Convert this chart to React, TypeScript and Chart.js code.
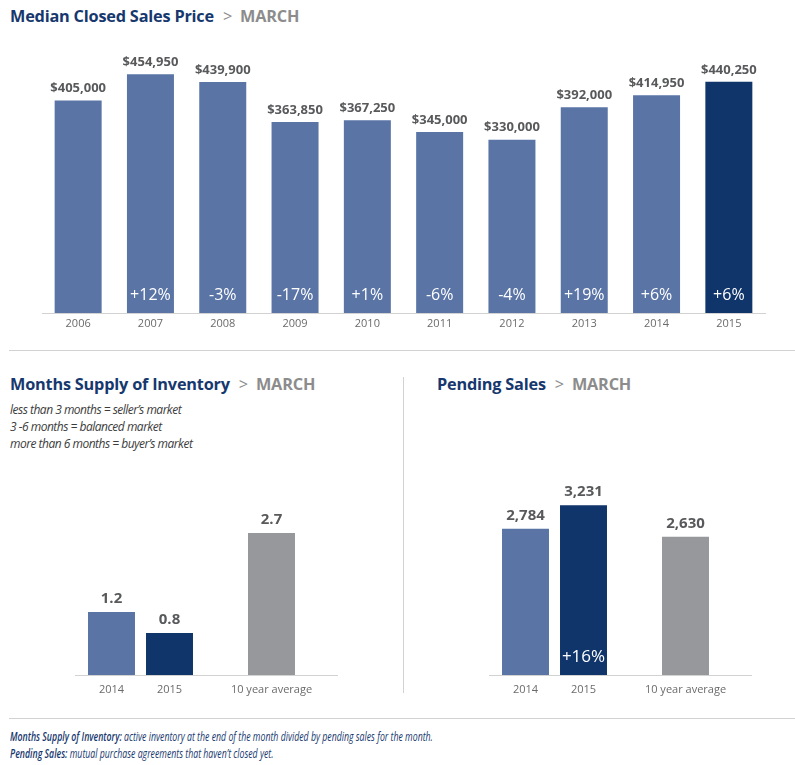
import React, { useEffect, useRef } from 'react';
import { Chart, registerables } from 'chart.js';

Chart.register(...registerables);

// ---------- data ----------
const years = ['2006', '2007', '2008', '2009', '2010', '2011', '2012', '2013', '2014', '2015'];
const medianPrices = [405000, 454950, 439900, 363850, 367250, 345000, 330000, 392000, 414950, 440250];
const priceChanges = ['', '+12%', '-3%', '-17%', '+1%', '-6%', '-4%', '+19%', '+6%', '+6%'];

const compareLabels = ['2014', '2015', '10 year average'];
const inventoryValues = [1.2, 0.8, 2.7];
const inventoryChanges = ['', '', ''];
const pendingValues = [2784, 3231, 2630];
const pendingChanges = ['', '+16%', ''];

// ---------- styles ----------
const BLUE = '#5a74a6';
const NAVY = '#10356a';
const GRAY = '#97989c';
const LABEL = '#58595b';
const TICK = '#6b6b6b';
const LINE = '#d2d2d2';
const FONT = '"Open Sans", "Noto Sans", sans-serif';

type LabelOpts = {
  format: (v: number) => string;
  valueSize: number;
  valueGap: number;
  inside: (ds: number, i: number) => string;
  insideSize: number;
  insideRise: number;
  tickLabel?: (ds: number, i: number) => string;
};

function labelPlugin(o: LabelOpts) {
  return {
    id: 'barLabels',
    afterDatasetsDraw(chart: any) {
      const ctx = chart.ctx;
      const area = chart.chartArea;
      chart.data.datasets.forEach((ds: any, di: number) => {
        const meta = chart.getDatasetMeta(di);
        meta.data.forEach((bar: any, i: number) => {
          const v = ds.data[i];
          if (v === null || v === undefined) return;
          ctx.save();
          ctx.textAlign = 'center';
          ctx.textBaseline = 'middle';
          ctx.fillStyle = LABEL;
          ctx.font = `bold ${o.valueSize}px ${FONT}`;
          ctx.fillText(o.format(v), bar.x, bar.y - o.valueGap);
          const inside = o.inside(di, i);
          if (inside) {
            ctx.fillStyle = '#ffffff';
            ctx.font = `${o.insideSize}px ${FONT}`;
            ctx.fillText(inside, bar.x, area.bottom - o.insideRise);
          }
          if (o.tickLabel) {
            ctx.fillStyle = TICK;
            ctx.font = `11px ${FONT}`;
            ctx.fillText(o.tickLabel(di, i), bar.x, area.bottom + 15);
          }
          ctx.restore();
        });
      });
    },
  };
}

function MainChart() {
  const ref = useRef<HTMLCanvasElement | null>(null);
  useEffect(() => {
    const chart = new Chart(ref.current as HTMLCanvasElement, {
      type: 'bar',
      data: {
        labels: years,
        datasets: [
          {
            data: medianPrices,
            backgroundColor: years.map((_, i) => (i === years.length - 1 ? NAVY : BLUE)),
            categoryPercentage: 1,
            barPercentage: 0.65,
          },
        ],
      },
      options: {
        responsive: false,
        animation: false,
        layout: { padding: { left: 42, right: 30, top: 0, bottom: 0 } },
        plugins: { legend: { display: false }, tooltip: { enabled: false } },
        scales: {
          x: {
            grid: { display: false, drawTicks: false },
            border: { display: true, color: LINE, width: 1 },
            ticks: { color: TICK, font: { size: 11, family: FONT }, padding: 4, autoSkip: false, maxRotation: 0 },
            afterFit: (s: any) => {
              s.height = 27;
            },
          },
          y: { display: false, min: 0, max: 520000 },
        },
      },
      plugins: [
        labelPlugin({
          format: (v) => '$' + v.toLocaleString('en-US'),
          valueSize: 13,
          valueGap: 12,
          inside: (_d, i) => priceChanges[i],
          insideSize: 16,
          insideRise: 18,
        }),
      ],
    } as any);
    return () => chart.destroy();
  }, []);
  return <canvas ref={ref} width={795} height={300} style={{ position: 'absolute', left: 0, top: 40 }} />;
}

function CompareChart(props: {
  values: number[];
  changes: string[];
  max: number;
  format: (v: number) => string;
  left: number;
  width: number;
  padLeft: number;
  padRight: number;
}) {
  const ref = useRef<HTMLCanvasElement | null>(null);
  useEffect(() => {
    const colors = [BLUE, NAVY, GRAY];
    const chart = new Chart(ref.current as HTMLCanvasElement, {
      type: 'bar',
      data: {
        labels: ['recent', 'average'],
        datasets: compareLabels.map((lab, i) => ({
          label: lab,
          data: i < 2 ? [props.values[i], null] : [null, props.values[i]],
          backgroundColor: colors[i],
          skipNull: true,
          categoryPercentage: 0.8855,
          barPercentage: i < 2 ? 0.81 : 0.405,
        })),
      },
      options: {
        responsive: false,
        animation: false,
        layout: { padding: { left: props.padLeft, right: props.padRight, top: 0, bottom: 0 } },
        plugins: { legend: { display: false }, tooltip: { enabled: false } },
        scales: {
          x: {
            grid: { display: false, drawTicks: false },
            border: { display: true, color: LINE, width: 1 },
            ticks: { display: false },
            afterFit: (s: any) => {
              s.height = 25;
            },
          },
          y: { display: false, min: 0, max: props.max },
        },
      },
      plugins: [
        labelPlugin({
          format: props.format,
          valueSize: 15,
          valueGap: 13,
          inside: (d) => props.changes[d],
          insideSize: 17,
          insideRise: 18,
          tickLabel: (d) => compareLabels[d],
        }),
      ],
    } as any);
    return () => chart.destroy();
  }, []);
  return (
    <canvas
      ref={ref}
      width={props.width}
      height={230}
      style={{ position: 'absolute', left: props.left, top: 470 }}
    />
  );
}

function Title(props: { left: number; top: number; text: string }) {
  return (
    <div
      style={{
        position: 'absolute',
        left: props.left,
        top: props.top,
        whiteSpace: 'nowrap',
        fontFamily: FONT,
        fontSize: 16.3,
        lineHeight: '20px',
        fontWeight: 700,
        color: '#17386e',
        letterSpacing: '-0.2px',
      }}
    >
      {props.text}
      <span style={{ color: '#8c8c8c', fontWeight: 400, margin: '0 8px 0 9px' }}>&gt;</span>
      <span style={{ color: '#8c8c8c' }}>MARCH</span>
    </div>
  );
}

export default function App() {
  return (
    <div
      style={{
        position: 'absolute',
        left: 0,
        top: 0,
        width: 795,
        height: 765,
        background: '#ffffff',
        overflow: 'hidden',
      }}
    >
      <Title left={10} top={6} text="Median Closed Sales Price" />
      <MainChart />
      <div style={{ position: 'absolute', left: 9, top: 350, width: 786, height: 1, background: LINE }} />
      <Title left={10} top={374} text="Months Supply of Inventory" />
      <Title left={437} top={374} text="Pending Sales" />
      <div
        style={{
          position: 'absolute',
          left: 10,
          top: 401,
          fontFamily: FONT,
          fontStyle: 'italic',
          fontSize: 12,
          lineHeight: '17px',
          color: '#3c3c3c',
          letterSpacing: '-0.5px',
          whiteSpace: 'nowrap',
        }}
      >
        <div>less than 3 months = seller’s market</div>
        <div>3 -6 months = balanced market</div>
        <div>more than 6 months = buyer’s market</div>
      </div>
      <div style={{ position: 'absolute', left: 403, top: 377, width: 1, height: 316, background: LINE }} />
      <CompareChart
        values={inventoryValues}
        changes={inventoryChanges}
        max={3.9}
        format={(v) => v.toFixed(1)}
        left={0}
        width={400}
        padLeft={75}
        padRight={63}
      />
      <CompareChart
        values={pendingValues}
        changes={pendingChanges}
        max={3900}
        format={(v) => v.toLocaleString('en-US')}
        left={400}
        width={395}
        padLeft={89}
        padRight={44}
      />
      <div style={{ position: 'absolute', left: 9, top: 718, width: 786, height: 1, background: LINE }} />
      <div
        style={{
          position: 'absolute',
          left: 10,
          top: 728,
          fontFamily: FONT,
          fontStyle: 'italic',
          fontSize: 12.5,
          lineHeight: '17px',
          color: '#17386e',
          whiteSpace: 'nowrap',
          transform: 'scaleX(0.7)',
          transformOrigin: 'left top',
        }}
      >
        <div>
          <span style={{ fontWeight: 600 }}>Months Supply of Inventory:</span> active inventory at the end of the month
          divided by pending sales for the month.
        </div>
        <div>
          <span style={{ fontWeight: 600 }}>Pending Sales:</span> mutual purchase agreements that haven’t closed yet.
        </div>
      </div>
    </div>
  );
}
